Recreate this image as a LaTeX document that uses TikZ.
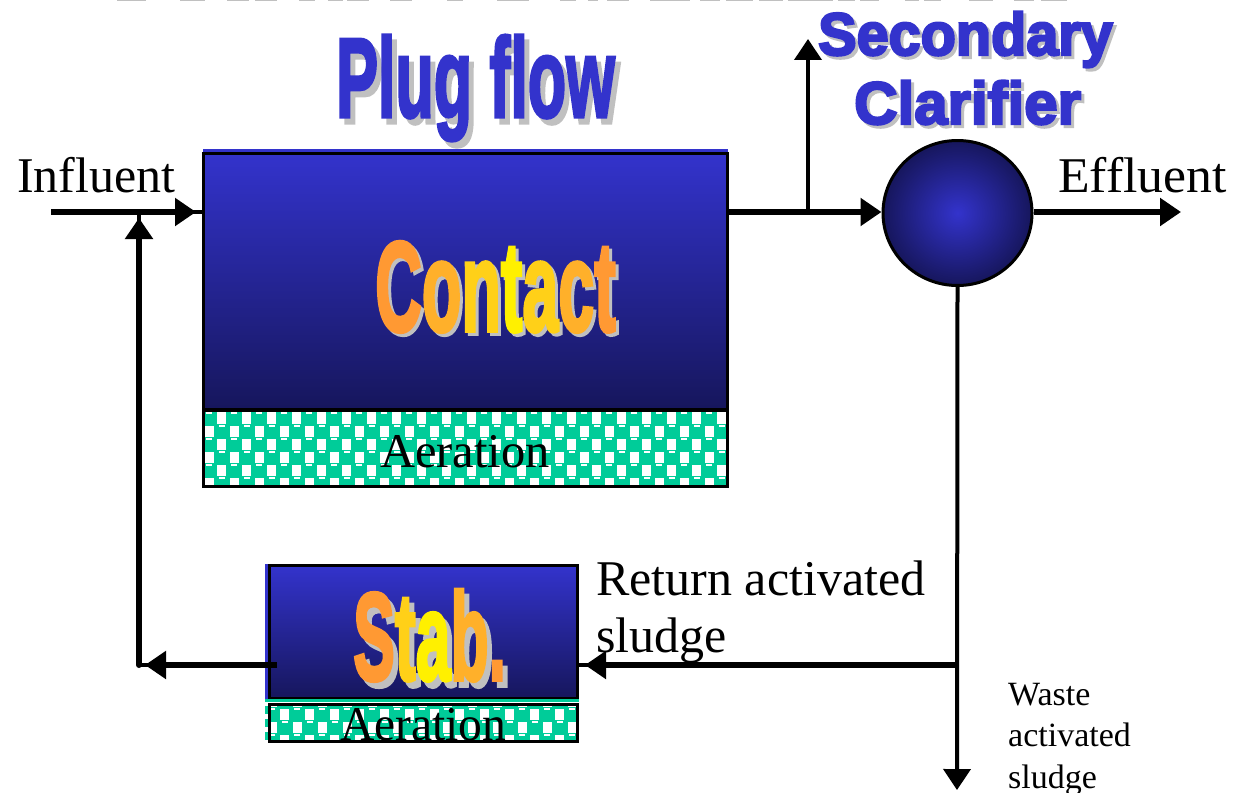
\documentclass[tikz,border=0pt]{standalone}
\usepackage{fontspec}
\usetikzlibrary{arrows.meta,calc,shapes.geometric}
\setmainfont{Liberation Serif}
\newfontfamily\heavyf[FakeBold=3]{Liberation Sans Bold}
\newfontfamily\widef[FakeBold=4]{Liberation Sans Bold}
\definecolor{tblue}{HTML}{3333CC}
\definecolor{dblue}{HTML}{16165C}
\definecolor{tgreen}{HTML}{00CC99}
\definecolor{tgray}{HTML}{C0C0C0}
\definecolor{oa}{HTML}{FF9933}
\definecolor{ob}{HTML}{FFB02A}
\definecolor{oc}{HTML}{FFD018}
\definecolor{od}{HTML}{FFF000}
\newcommand{\checkers}[2]{%
  \foreach \j in {0,...,12}{\foreach \i in {0,...,44}{%
    \pgfmathsetmacro{\xx}{#1+\i*12.5}\pgfmathsetmacro{\yy}{#2+\j*13}%
    \pgfmathtruncatemacro{\parit}{mod(\i+\j,2)}%
    \ifnum\parit=0
      \fill[tgreen] (\xx-1,\yy) rectangle ++(16,15);
      \fill[white] (\xx+4,\yy+1.5) rectangle ++(6,2);
    \fi}}}
\newcommand{\contactword}[4]{{\color{#1}C}{\color{#2}o}{\color{#3}n}{\color{#4}t}{\color{#3}a}{\color{#2}c}{\color{#1}t}}
\newcommand{\stabword}[4]{{\color{#1}S}{\color{#3}t}{\color{#4}a}{\color{#2}b}{\color{#1}.}}
\tikzset{
  tank/.style={draw=black,line width=3pt,inner sep=0pt,top color=tblue,bottom color=dblue,shading angle=0},
  aer/.style 2 args={draw=black,line width=3pt,inner sep=0pt,path picture={\checkers{#1}{#2}}},
  lab/.style={anchor=base west,inner sep=0pt,font=\fontsize{50}{60}\selectfont},
  laba/.style={anchor=base west,inner sep=0pt,font=\fontsize{48.5}{60}\selectfont},
  labs/.style={anchor=base west,inner sep=0pt,font=\fontsize{34}{40}\selectfont},
  head/.style={-{Triangle[length=21pt,width=27pt]}},
  thick flow/.style={line width=6pt},
  thin flow/.style={line width=4pt},
  shadowtxt/.style={anchor=base west,inner sep=0pt,text=tgray},
  titletxt/.style={anchor=base west,inner sep=0pt,text=tblue},
  wordtxt/.style={anchor=base west,inner sep=0pt},
  cut/.style={fill=tgray,draw=none}
}
\begin{document}
\begin{tikzpicture}[x=1pt,y=-1pt]
\useasboundingbox (0,0) rectangle (1233,792);
% clipped remains of a title at the top edge
\foreach \a/\b in {117/146,180/205,227/249,255/277,299/315,328/343,347/369,390/412,447/463,497/529,560/576,588/598,607/629,650/690,700/720,726/753,759/783,788/833,838/855,860/879,905/919,924/941,969/993,1014/1034,1041/1067}
  \fill[cut] (\a,0) rectangle (\b,1.5);
% coordinates
\coordinate (in) at (51,212);
\coordinate (jn) at (808,212);
\coordinate (upend) at (808,39);
\coordinate (effend) at (1181,212);
\coordinate (wj) at (957,665);
\coordinate (wasteend) at (957,790);
\coordinate (stabout) at (277,665);
\coordinate (fb) at (139,665);
\coordinate (fbtop) at (139,218);
% strips
\fill[tblue] (203,149) rectangle (728,153);
\fill[tblue] (265,564) rectangle (269,699);
\foreach \s in {706,719,732}
  \fill[tgreen] (265,\s) rectangle (269,\s+8);
% tanks
\node[tank,minimum width=523.5pt,minimum height=255.5pt] (contact) at (465.25,281.25) {};
\node[aer={-263}{-37.5},minimum width=523.5pt,minimum height=76.5pt] (aer1) at (465.25,448.25) {};
\node[tank,minimum width=308pt,minimum height=133pt] (stab) at (423.5,632) {};
\fill[tgreen] (265,699) rectangle (579,702);
\node[aer={-171}{-29},minimum width=308pt,minimum height=37pt] (aer2) at (423.5,722.5) {};
\node[ellipse,draw=black,line width=3pt,inner sep=0pt,minimum width=149pt,minimum height=145pt,inner color=tblue,outer color=dblue] (clar) at (957.5,213) {};
% connectors
\draw[thin flow] (in) -- (in -| contact.west);
\draw[thick flow,head,shorten >=6pt] (in) -- (in -| contact.west);
\draw[thin flow] (fb) -- (fb |- in);
\draw[thick flow,head,line cap=round] (fb) -- (fbtop);
\draw[thick flow] (in -| contact.east) -- (jn);
\draw[thick flow,head] (jn) -- (in -| clar.west);
\draw[thin flow,head] (jn) -- (upend);
\draw[thick flow,head] (in -| clar.east) -- (effend);
\draw[thin flow,head] (clar.south) -- (wasteend);
\draw[thin flow] (wj) -- (wj -| stab.east);
\draw[thick flow,head,shorten >=6pt] (wj) -- (wj -| stab.east);
\draw[thin flow] (stabout) -- (fb);
\draw[thick flow,head,shorten >=6pt] (stabout) -- (fb);
% labels
\node[lab] (linf) at (17,192) {Influent};
\node[lab] (leff) at (1058,192) {\scalebox{1.035}[1]{Effluent}};
\node[laba] (la1) at (380,467) {Aeration};
\node[laba] (la2) at (340,740) {\scalebox{.98}[1]{Aeration}};
\node[lab] (lret) at (596,595) {Return activated};
\node[lab] (lslu) at (596,652) {sludge};
\node[labs] (lw1) at (1008,705) {Waste};
\node[labs] (lw2) at (1008,746) {activated};
\node[labs] (lw3) at (1008,788) {sludge};
% titles
\node[shadowtxt] (sp) at (341,123) {\heavyf\fontsize{113}{120}\selectfont\scalebox{.555}[1]{Plug flow}};
\node[titletxt] (tp) at (336,117) {\heavyf\fontsize{113}{120}\selectfont\scalebox{.555}[1]{Plug flow}};
\node[shadowtxt] (ss) at (821,58) {\widef\fontsize{60}{70}\selectfont\scalebox{.96}[1]{Secondary}};
\node[titletxt] (ts) at (818,55) {\widef\fontsize{60}{70}\selectfont\scalebox{.96}[1]{Secondary}};
\node[shadowtxt] (sc) at (857,127) {\widef\fontsize{60}{70}\selectfont Clarifier};
\node[titletxt] (tc) at (854,124) {\widef\fontsize{60}{70}\selectfont Clarifier};
\node[shadowtxt] (sco) at (378,334) {\heavyf\fontsize{128}{130}\selectfont\scalebox{.505}[1]{Contact}};
\node[wordtxt] (tco) at (375,331) {\heavyf\fontsize{128}{130}\selectfont\scalebox{.505}[1]{\contactword{oa}{ob}{oc}{od}}};
\node[shadowtxt] (sst) at (358,686) {\heavyf\fontsize{125}{130}\selectfont\scalebox{.5}[1]{Stab.}};
\node[wordtxt] (tst) at (353,680) {\heavyf\fontsize{125}{130}\selectfont\scalebox{.5}[1]{\stabword{oa}{ob}{oc}{od}}};
\end{tikzpicture}
\end{document}
